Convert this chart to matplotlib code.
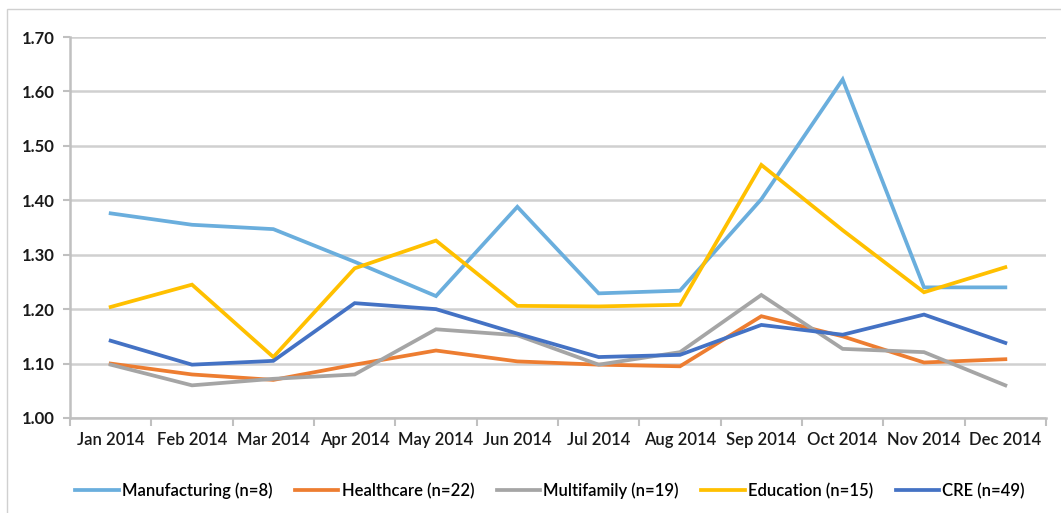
import matplotlib
matplotlib.use("Agg")
import matplotlib.pyplot as plt
from matplotlib.patches import Rectangle
from matplotlib.ticker import FixedLocator, NullFormatter

plt.rcParams['font.family'] = ['Lato', 'DejaVu Sans']

months = ["Jan 2014", "Feb 2014", "Mar 2014", "Apr 2014", "May 2014", "Jun 2014",
          "Jul 2014", "Aug 2014", "Sep 2014", "Oct 2014", "Nov 2014", "Dec 2014"]

manufacturing = [1.376, 1.355, 1.347, 1.287, 1.224, 1.388, 1.229, 1.234, 1.402, 1.622, 1.240, 1.240]
healthcare    = [1.100, 1.080, 1.070, 1.098, 1.124, 1.104, 1.098, 1.095, 1.187, 1.150, 1.102, 1.108]
multifamily   = [1.098, 1.060, 1.072, 1.080, 1.163, 1.152, 1.098, 1.121, 1.226, 1.127, 1.121, 1.060]
education     = [1.204, 1.245, 1.112, 1.275, 1.326, 1.206, 1.205, 1.208, 1.465, 1.345, 1.231, 1.277]
cre           = [1.142, 1.098, 1.105, 1.211, 1.200, 1.155, 1.112, 1.116, 1.171, 1.153, 1.190, 1.138]

series = [
    ("Manufacturing (n=8)", manufacturing, "#6AAEDD"),
    ("Healthcare (n=22)", healthcare, "#ED7D31"),
    ("Multifamily (n=19)", multifamily, "#A5A5A5"),
    ("Education (n=15)", education, "#FFC000"),
    ("CRE (n=49)", cre, "#4472C4"),
]

W, H = 1061, 513
fig = plt.figure(figsize=(W / 100, H / 100), dpi=100)
fig.patch.set_facecolor("white")

# outer chart border
fig.patches.append(Rectangle((7 / W, -0.05), 1.2, (H - 9) / H + 0.05,
                             transform=fig.transFigure, fill=False,
                             edgecolor="#D0D0D0", linewidth=1.0))

left, right, top, bottom = 70, 1046, 37, 418
ax = fig.add_axes([left / W, 1 - bottom / H, (right - left) / W, (bottom - top) / H])

x = list(range(len(months)))
for name, vals, col in series:
    ax.plot(x, vals, color=col, linewidth=2.7, label=name, solid_joinstyle="miter")

ax.set_xlim(-0.5, len(months) - 0.5)
ax.set_ylim(1.0, 1.7)
yt = [1.0 + 0.1 * i for i in range(8)]
ax.set_yticks(yt)
ax.set_yticklabels([f"{v:.2f}" for v in yt], fontsize=12, fontweight="bold", color="#1a1a1a")
ax.yaxis.grid(True, color="#D0D0D0", linewidth=1.8)
ax.set_axisbelow(True)

ax.set_xticks(x)
ax.set_xticklabels(months, fontsize=12, fontweight="semibold", color="#1a1a1a")
ax.xaxis.set_minor_locator(FixedLocator([i - 0.5 for i in range(len(months) + 1)]))
ax.xaxis.set_minor_formatter(NullFormatter())
ax.tick_params(axis="x", which="major", length=0, pad=10)
ax.tick_params(axis="x", which="minor", length=6, width=1.5, color="#C0C0C0")
ax.tick_params(axis="y", length=5, width=1.5, color="#C0C0C0", pad=6)

for s in ["top", "right"]:
    ax.spines[s].set_visible(False)
ax.spines["left"].set_color("#C0C0C0")
ax.spines["left"].set_linewidth(1.8)
ax.spines["bottom"].set_color("#C0C0C0")
ax.spines["bottom"].set_linewidth(1.8)

fig.legend(loc="center", bbox_to_anchor=(550 / W, 1 - 491 / H), ncol=5,
           frameon=False, prop={"size": 12, "weight": "semibold"},
           handlelength=2.6, handletextpad=0.2, columnspacing=1.35)

fig.savefig("out.png", dpi=100, facecolor="white")
